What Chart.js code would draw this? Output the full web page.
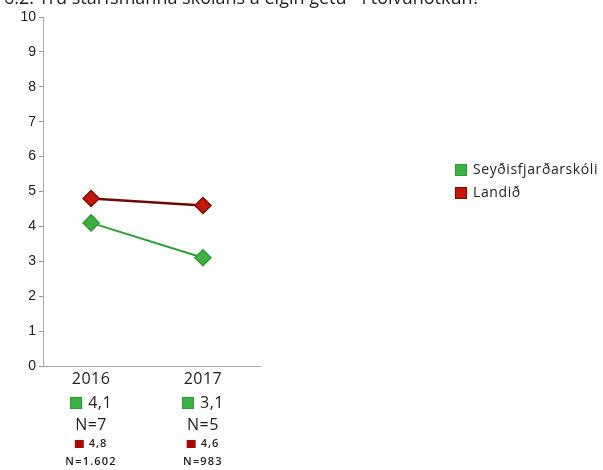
<!DOCTYPE html>
<html><head><meta charset="utf-8">
<script src="https://cdn.jsdelivr.net/npm/chart.js@4"></script>
<style>html,body{margin:0;padding:0;background:#fff}#wrap{width:603px;height:470px}</style>
</head><body><div id="wrap"><canvas id="c" width="603" height="470"></canvas></div>
<script>
const titleText = "6.2: Trú starfsmanna skólans á eigin getu - í tölvunotkun?";
const years = [2016, 2017];
const schoolName = "Seyðisfjarðarskóli";
const countryName = "Landið";
const schoolValues = [4.1, 3.1];
const countryValues = [4.8, 4.6];
const schoolN = ["N=7", "N=5"];
const countryN = ["N=1.602", "N=983"];
const yTicks = [0,1,2,3,4,5,6,7,8,9,10];

const green = '#3fb045', greenDark = '#2e9a34', greenLine = '#2f9e35';
const red = '#c4160b', redDark = '#7c0a00', redLine = '#6e0a00';
const FONT = '"Open Sans", sans-serif';
const fmt = v => v.toFixed(1).replace('.', ',');

const extras = {
  id: 'extras',
  afterDraw(chart) {
    const ctx = chart.ctx;
    const x = chart.scales.x;
    ctx.save();
    // cut-off title
    ctx.fillStyle = '#222';
    ctx.font = '18px ' + FONT;
    ctx.textBaseline = 'alphabetic';
    ctx.textAlign = 'left';
    ctx.fillText(titleText, 4, 4);
    // category blocks
    years.forEach((yr, i) => {
      const cx = x.getPixelForValue(yr);
      ctx.fillStyle = '#222';
      ctx.textAlign = 'center';
      ctx.textBaseline = 'middle';
      ctx.letterSpacing = '0.5px';
      ctx.font = '16px ' + FONT;
      ctx.fillText(String(yr), cx, 379);
      // school value
      const t1 = fmt(schoolValues[i]);
      const w1 = ctx.measureText(t1).width;
      const total = 12 + 6 + w1;
      const sx = cx - total / 2;
      ctx.fillStyle = green;
      ctx.fillRect(sx, 397, 12, 12);
      ctx.strokeStyle = greenDark; ctx.lineWidth = 1;
      ctx.strokeRect(sx + 0.5, 397.5, 11, 11);
      ctx.fillStyle = '#222';
      ctx.textAlign = 'left';
      ctx.fillText(t1, sx + 18, 403);
      ctx.textAlign = 'center';
      ctx.fillText(schoolN[i], cx, 425);
      // country value
      ctx.letterSpacing = '1px';
      ctx.font = '600 11px ' + FONT;
      const t2 = fmt(countryValues[i]);
      const w2 = ctx.measureText(t2).width;
      const tot2 = 9 + 5 + w2;
      const rx = cx - tot2 / 2;
      ctx.fillStyle = '#a80a00';
      ctx.fillRect(rx, 440, 9, 8);
      ctx.fillStyle = '#222';
      ctx.textAlign = 'left';
      ctx.fillText(t2, rx + 14, 444);
      ctx.textAlign = 'center';
      ctx.font = '600 11px ' + FONT;
      ctx.letterSpacing = '1.2px';
      ctx.fillText(countryN[i], cx, 462);
    });
    // legend
    ctx.letterSpacing = '0.6px';
    const items = [[schoolName, green, greenDark, 170], [countryName, red, redDark, 193]];
    items.forEach(([name, fill, border, yy]) => {
      ctx.fillStyle = fill;
      ctx.fillRect(455, yy - 6, 12, 12);
      ctx.strokeStyle = border; ctx.lineWidth = 1;
      ctx.strokeRect(455.5, yy - 5.5, 11, 11);
      ctx.fillStyle = '#222';
      ctx.font = '14px ' + FONT;
      ctx.textAlign = 'left';
      ctx.textBaseline = 'middle';
      ctx.fillText(name, 473, yy);
    });
    ctx.restore();
  }
};

new Chart(document.getElementById('c'), {
  type: 'line',
  data: {
    datasets: [
      { label: countryName, data: years.map((y, i) => ({x: y, y: countryValues[i]})),
        borderColor: redLine, borderWidth: 2.5, pointStyle: 'rectRot', pointRadius: 8,
        pointBackgroundColor: red, pointBorderColor: redDark, pointBorderWidth: 1.5 },
      { label: schoolName, data: years.map((y, i) => ({x: y, y: schoolValues[i]})),
        borderColor: greenLine, borderWidth: 2, pointStyle: 'rectRot', pointRadius: 8,
        pointBackgroundColor: green, pointBorderColor: greenDark, pointBorderWidth: 1.5 }
    ]
  },
  options: {
    responsive: false, animation: false,
    layout: { padding: { top: 17, right: 343, left: 0, bottom: 0 } },
    plugins: { legend: { display: false }, tooltip: { enabled: false } },
    scales: {
      x: { type: 'linear', min: 2015.57, max: 2017.51,
        ticks: { display: false },
        grid: { display: false, drawTicks: false },
        border: { color: '#aaa', width: 1 },
        afterFit: s => { s.height = 104; } },
      y: { min: 0, max: 10,
        afterBuildTicks: s => { s.ticks = yTicks.map(v => ({value: v})); },
        ticks: { color: '#222', font: { size: 14, family: '"Liberation Sans", Arial, sans-serif' }, padding: 3 },
        grid: { drawOnChartArea: false, drawTicks: true, tickLength: 4, color: '#999' },
        border: { color: '#aaa', width: 1 },
        afterFit: s => { s.width = 43; } }
    }
  },
  plugins: [extras]
});
</script></body></html>
